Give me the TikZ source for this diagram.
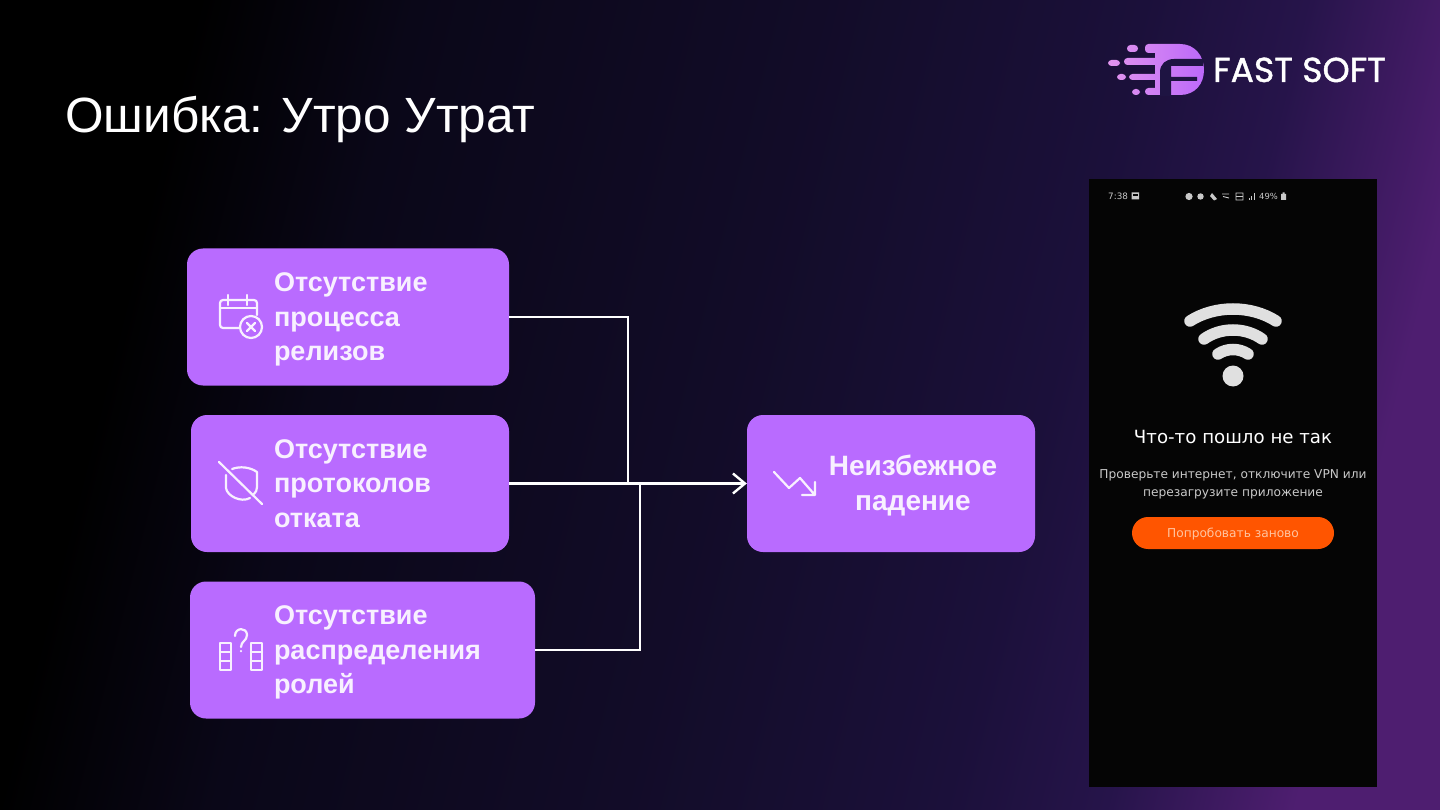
\documentclass[tikz,border=0pt]{standalone}
\usepackage{fontspec}
\setmainfont{Liberation Sans}
\newfontfamily\logofont[FakeBold=1.2]{Poppins}
\newfontfamily\screenfont{DejaVu Sans}
\usetikzlibrary{arrows.meta}
\definecolor{Plum}{HTML}{B96BFF}
\definecolor{Paper}{HTML}{F8F0FF}
\definecolor{Screen}{HTML}{050505}
\definecolor{Soft}{HTML}{C9C9C9}
\definecolor{Ember}{HTML}{FF5500}
\definecolor{EmberText}{HTML}{FFC4A0}
\definecolor{LogoL}{HTML}{E295EE}
\definecolor{LogoR}{HTML}{BC69FA}
\definecolor{LogoDark}{HTML}{1E1442}
\definecolor{BgA}{HTML}{0A0718}
\definecolor{BgB}{HTML}{120C28}
\definecolor{BgC}{HTML}{1B103A}
\definecolor{BgD}{HTML}{26144A}
\definecolor{BgE}{HTML}{4E1E70}
\pgfdeclarehorizontalshading{slidebg}{100bp}{
 color(0bp)=(black);color(27bp)=(black);
 color(35bp)=(BgA);
 color(50bp)=(BgB);
 color(62bp)=(BgC);
 color(68bp)=(BgD);
 color(75bp)=(BgE);
 color(100bp)=(BgE)}
\tikzset{
 procbox/.style={fill=Plum,rounded corners=16pt,minimum height=137pt,inner xsep=0pt,inner ysep=0pt,text=Paper,font=\fontsize{27}{34.5}\selectfont\bfseries},
 leftbox/.style={procbox,align=left,execute at begin node={\leftskip=#1\relax}},
 arr/.style={draw=white,line width=2.4pt},
 arrtip/.style={arr,-{Straight Barb[length=12pt,width=20pt,line width=2.4pt]}},
 glyph/.style={draw=Paper,line width=2.2pt,line cap=round,line join=round},
 wifi/.style={draw=#1,line width=11.5pt,line cap=round},
 tiny/.style={draw=Soft,line width=.9pt},
 screentext/.style={font=\screenfont\fontsize{12.2}{18}\selectfont,text=Soft,align=center}
}
\begin{document}
\begin{tikzpicture}[x=1pt,y=-1pt]
\useasboundingbox (0,0) rectangle (1440,810);
\shade[shading=slidebg,shading angle=-14] (0,0) rectangle (1440,810);
% title and logo
\node[anchor=base west,inner sep=0pt,text=white,font=\fontsize{49.5}{56}\selectfont] (title) at (65,132.5) {Ошибка: Утро Утрат};
\shade[left color=LogoL,right color=LogoR]
 [rounded corners=3.4pt] (1127,45) rectangle (1138,52) (1108,60) rectangle (1120,66) (1117,74) rectangle (1126,80) (1132,89) rectangle (1140,95)
 (1124,58) rectangle (1160,65) (1129,74) rectangle (1160,80) (1145,88) rectangle (1160,95) (1145,44) rectangle (1160,53)
 [sharp corners] (1155,95) -- (1180,95) .. controls (1195,95) and (1204,84) .. (1204,70) .. controls (1204,56) and (1195,44) .. (1180,44) -- (1155,44) -- cycle;
\fill[LogoDark] (1160,96) -- (1160,72) .. controls (1160,64) and (1166,59) .. (1174,59) -- (1203,59) -- (1203,66) -- (1197,66) -- (1171,66) -- (1171,77) -- (1197,77) -- (1197,81) -- (1171,81) -- (1171,96) -- cycle;
\node[anchor=base west,inner sep=0pt,text=white,font=\logofont\fontsize{34.6}{36}\selectfont] (brand) at (1213,82) {FAST SOFT};
% boxes
\node[leftbox=87pt,minimum width=322pt,text width=322pt] (release) at (348,317) {\rule{0pt}{24pt}Отсутствие\\процесса\\релизов};
\node[leftbox=83pt,minimum width=318pt,text width=318pt] (rollback) at (350,483.5) {Отсутствие\\протоколов\\отката};
\node[leftbox=84pt,minimum width=345pt,text width=345pt] (roles) at (362.5,650) {\rule{0pt}{24pt}Отсутствие\\распределения\\ролей};
\node[procbox,align=center,minimum width=288pt,text width=288pt,font=\fontsize{28}{34.5}\selectfont\bfseries] (fall) at (891,483.5) {\rule{0pt}{25pt}\hspace*{44pt}Неизбежное\\\hspace*{44pt}падение};
% connectors
\coordinate (joinup) at (628,483);
\coordinate (joindown) at (640,483);
\draw[arr] (release.east) -| (joinup);
\draw[arr] (roles.east) -| (joindown);
\draw[arrtip] (rollback.east) -- (fall.west);
% icons
\draw[glyph,rounded corners=3pt] (240,328) -- (220,328) -- (220,300) -- (257,300) -- (257,315);
\draw[glyph] (220,308) -- (257,308) (228,295) -- (228,305) (247,295) -- (247,305);
\draw[glyph] (251,327) circle (11) (247,323) -- (255,331) (255,323) -- (247,331);
\draw[glyph] (219,462) -- (262,504) (226,475) -- (226,488) .. controls (227,496) and (241,503) .. (250,498) (232,469) .. controls (240,466) and (250,467) .. (257,472) -- (257,487) .. controls (257,490) and (256,492) .. (254,494);
\draw[glyph] (220,643) rectangle (231,670) (220,652) -- (231,652) (220,661) -- (231,661) (251,643) rectangle (262,670) (251,652) -- (262,652) (251,661) -- (262,661);
\draw[glyph] (235,636) .. controls (235,627) and (247,627) .. (247,635) .. controls (247,641) and (241,641) .. (241,647) (241,651) -- (241,651.2);
\draw[glyph] (774,472) -- (789,488) -- (800,478) -- (814,494) (802,495) -- (815,495) -- (815,482);
% phone screen
\node[fill=Screen,minimum width=288pt,minimum height=608pt,inner sep=0pt] (screen) at (1233,483) {};
\node[anchor=base west,inner sep=0pt,text=Soft,font=\screenfont\fontsize{8.8}{11}\selectfont] (clock) at (1108,199.5) {7:38};
\node[anchor=base west,inner sep=0pt,text=Soft,font=\screenfont\fontsize{8.4}{11}\selectfont] (battery) at (1259,199.5) {49\%};
\fill[Soft] (1131.5,192.5) rectangle (1139,199.5) (1281,194) rectangle (1286,200) (1282.5,192.5) rectangle (1284.5,194);
\fill[Screen] (1133,194) rectangle (1137.5,196);
\fill[Soft] (1189,196.5) circle (3.6) (1200.5,196.5) circle (3.2) (1212,193) -- (1217,199) -- (1214,200.5) -- (1210,196) -- cycle;
\draw[tiny] (1222,194) -- (1229,194) (1223,196.5) -- (1229,198) (1236,193) rectangle (1243,200) (1236,196.5) -- (1243,196.5);
\draw[tiny] (1249,200) -- (1249,198) (1251.5,200) -- (1251.5,196) (1254,200) -- (1254,193);
\draw[wifi=white!88!black] (1190,321) .. controls (1215,305) and (1251,305) .. (1276,321);
\draw[wifi=white!88!black] (1204,339) .. controls (1221,327) and (1245,327) .. (1262,339);
\draw[wifi=white!88!black] (1218,354) .. controls (1227,348) and (1239,348) .. (1248,354);
\fill[white!88!black] (1233,376) circle (10.5);
\node[inner sep=0pt,text=white,font=\screenfont\fontsize{18.2}{20}\selectfont] (oops) at (1233,437) {Что-то пошло не так};
\node[inner sep=0pt,screentext] (hint) at (1233,484) {Проверьте интернет, отключите VPN или\\перезагрузите приложение};
\node[fill=Ember,rounded corners=16pt,minimum width=202pt,minimum height=32pt,inner sep=0pt,text=EmberText,text height=12pt,text depth=3pt,font=\screenfont\fontsize{12.2}{14}\selectfont] (retry) at (1233,533) {Попробовать заново};
\end{tikzpicture}
\end{document}
